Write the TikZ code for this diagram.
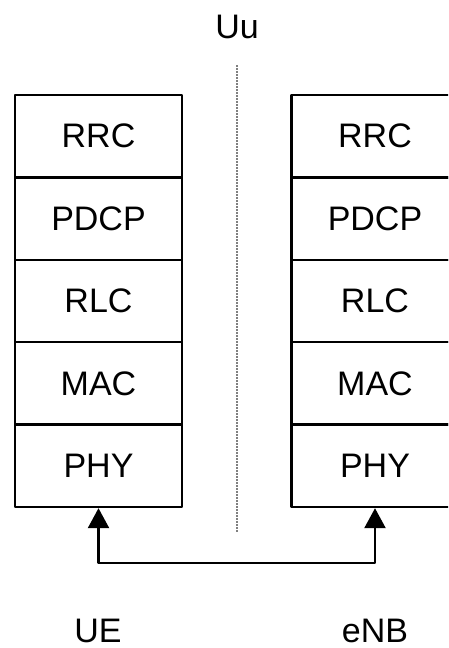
\documentclass[tikz,border=0pt]{standalone}
\usepackage{fontspec}
\setmainfont{Liberation Sans}
\usetikzlibrary{arrows.meta}
\begin{document}
\begin{tikzpicture}[x=1pt,y=-1pt,line join=round,font=\fontsize{34}{40}\selectfont,
		layer/.style={draw,line width=2.4pt,minimum width=167pt,minimum height=82.4pt,inner sep=0pt},
		link/.style={line width=2.4pt,{Triangle[width=21pt,length=20pt]}-{Triangle[width=21pt,length=20pt]}}]
			\def \ytop{95};
			\def \h{82.4};
			\useasboundingbox (0,0) rectangle (448,648);
			\clip (0,0) rectangle (448,648);
			% protocol stacks
			\foreach \l [count=\i] in {RRC,PDCP,RLC,MAC,PHY}{
				\node[layer] (ue\i) at (98.5,\ytop+\h*\i-\h/2) {\l};
				\node[layer] (enb\i) at (375,\ytop+\h*\i-\h/2) {\l};}
			\node (uu) at (237,27) {Uu};
			\coordinate (top) at (237,65);
			\coordinate (bot) at (237,532);
			\draw[gray,line width=1.6pt,dash pattern=on 1.6pt off 1.4pt] (top)--(bot);
			\coordinate (bus) at (237,563);
			\draw[link] (ue5.south) |- (bus) -| (enb5.south);
			\node[anchor=base] (ue) at (98,642) {UE};
			\node[anchor=base] (enb) at (375,642) {eNB};
		\end{tikzpicture}
\end{document}
